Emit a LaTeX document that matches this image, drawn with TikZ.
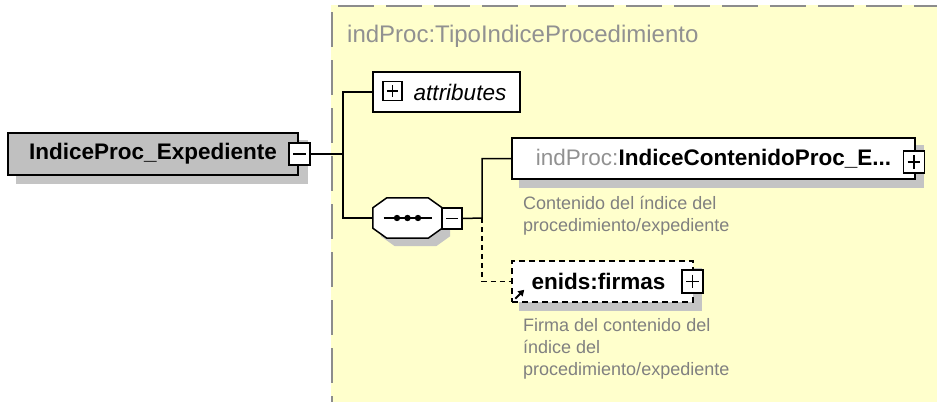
\documentclass[tikz,border=0pt]{standalone}
\usepackage{amssymb,amsmath}
\usepackage{fontspec}
\setmainfont{Liberation Sans}
\usetikzlibrary{calc,arrows.meta}
\definecolor{paneyellow}{RGB}{255,255,204}
\definecolor{framegray}{RGB}{140,140,140}
\definecolor{prefixgray}{RGB}{145,145,145}
\definecolor{boxgray}{RGB}{192,192,192}
\definecolor{shadowgray}{RGB}{196,196,196}
\definecolor{notegray}{RGB}{128,128,128}
\pgfdeclarelayer{background}
\pgfdeclarelayer{shadows}
\pgfsetlayers{background,shadows,main}

\begin{document}
\begin{tikzpicture}[x=1pt,y=1pt,yscale=-1,xscale=1,
  elem/.style={draw, line width=1.5pt, fill=white, inner sep=0pt, font=\fontsize{22.5}{27}\selectfont},
  btn/.style={draw, line width=1.3pt, fill=white, minimum width=21pt, minimum height=22pt, inner sep=0pt},
  minusbtn/.style={btn, path picture={\draw[line width=1.3pt] ($(path picture bounding box.west)!0.2!(path picture bounding box.east)$) -- ($(path picture bounding box.west)!0.8!(path picture bounding box.east)$);}},
  plusbtn/.style={btn, path picture={\draw[line width=1.3pt] ($(path picture bounding box.west)!0.2!(path picture bounding box.east)$) -- ($(path picture bounding box.west)!0.8!(path picture bounding box.east)$) ($(path picture bounding box.north)!0.2!(path picture bounding box.south)$) -- ($(path picture bounding box.north)!0.8!(path picture bounding box.south)$);}},
  note/.style={anchor=north west, inner sep=0pt, align=left, text=notegray, font=\fontsize{18}{22}\selectfont},
  wire/.style={line width=1.5pt},
  paneframe/.style={draw=framegray, line width=2pt},
  shadowfill/.style={fill=shadowgray},
]
\useasboundingbox (0,0) rectangle (937,402);

%Shape: Rectangle (type pane)
\begin{pgfonlayer}{background}
\fill[paneyellow] (331,5) rectangle (937,402);
\draw[paneframe, dash pattern=on 36pt off 12pt] (338,6) -- (937,6);
\draw[paneframe, dash pattern=on 35pt off 13pt] (332,12) -- (332,402);
\end{pgfonlayer}
\node[anchor=base west, inner sep=0pt, text=prefixgray, font=\fontsize{24}{28}\selectfont] (typename) at (347,42) {indProc:TipoIndiceProcedimiento};

%Shape: Rectangle (root element)
\node[elem, fill=boxgray, minimum width=290pt, minimum height=42pt] (root) at (153,154) {\textbf{IndiceProc\_Expediente}};
\node[minusbtn] (rootbtn) at (299.5,154) {};

%Shape: Rectangle (attributes)
\node[elem, minimum width=147pt, minimum height=40pt] (attr) at (446.5,92) {\hspace*{27pt}\textit{attributes}};
\node[plusbtn, minimum width=19pt, minimum height=19pt] (attrbtn) at (392.5,91) {};

%Shape: Octagon (sequence)
\node[minimum width=69pt, minimum height=40pt, inner sep=0pt] (seq) at (407.5,218) {};
\draw[wire, fill=white] ($(seq.north west)+(14,0)$) -- ($(seq.north east)+(-14,0)$) -- ($(seq.north east)+(0,10)$) -- ($(seq.south east)+(0,-10)$) -- ($(seq.south east)+(-14,0)$) -- ($(seq.south west)+(14,0)$) -- ($(seq.south west)+(0,-10)$) -- ($(seq.north west)+(0,10)$) -- cycle;
\draw[wire] ([xshift=-24pt]seq.center) -- ([xshift=24pt]seq.center);
\foreach \dx in {-10.5,0,10.5}
  \fill ([xshift=\dx pt]seq.center) circle (3.2);
\node[minusbtn, minimum width=20pt, minimum height=21pt] (seqbtn) at (452,218.5) {};

%Shape: Rectangle (child elements)
\node[elem, minimum width=403pt, minimum height=41pt] (cont) at (713.5,158.5) {{\color{prefixgray}indProc:}\textbf{IndiceContenidoProc\_E...}};
\node[plusbtn] (contbtn) at (914,162) {};
\node[note] (contnote) at (523,196) {Contenido del índice del\\procedimiento/expediente};

\node[elem, dash pattern=on 6pt off 4pt, minimum width=181pt, minimum height=41pt] (firmas) at (602.5,281.5) {\textbf{enids:firmas}\hspace*{8pt}};
\node[plusbtn, minimum height=23pt] (firmasbtn) at (692.5,281.5) {};
\draw[-{Triangle[length=6pt,width=7pt]}, line width=2pt] ($(firmas.south west)+(4,-4)$) -- ($(firmas.south west)+(13,-13)$);
\node[note] (firmasnote) at (523,318) {Firma del contenido del\\índice del\\procedimiento/expediente};

%Shadows
\begin{pgfonlayer}{shadows}
\fill[shadowfill] ($(root.north west)+(9,8)$) rectangle ($(root.south east)+(9,8)$);
\fill[shadowfill] ($(seq.north west)+(22,8)$) -- ($(seq.north east)+(-6,8)$) -- ($(seq.north east)+(8,18)$) -- ($(seq.south east)+(8,-2)$) -- ($(seq.south east)+(-6,8)$) -- ($(seq.south west)+(22,8)$) -- ($(seq.south west)+(8,-2)$) -- ($(seq.north west)+(8,18)$) -- cycle;
\fill[shadowfill] ($(cont.north west)+(8,8)$) rectangle ($(cont.south east)+(8,8)$);
\fill[shadowfill] ($(firmas.north west)+(8,8)$) rectangle ($(firmas.south east)+(8,8)$);
\end{pgfonlayer}

%Straight Lines
\coordinate (fork) at (343,154);
\coordinate (seqfork) at (482,218);
\draw[wire] (rootbtn.east) -- (fork) |- (attr.west);
\draw[wire] (fork) |- (seq.west);
\draw[wire] (seqbtn.east) -- (seqfork) |- (cont.west);
\draw[wire, dash pattern=on 5pt off 4pt] (seqfork) |- (firmas.west);

\end{tikzpicture}
\end{document}
